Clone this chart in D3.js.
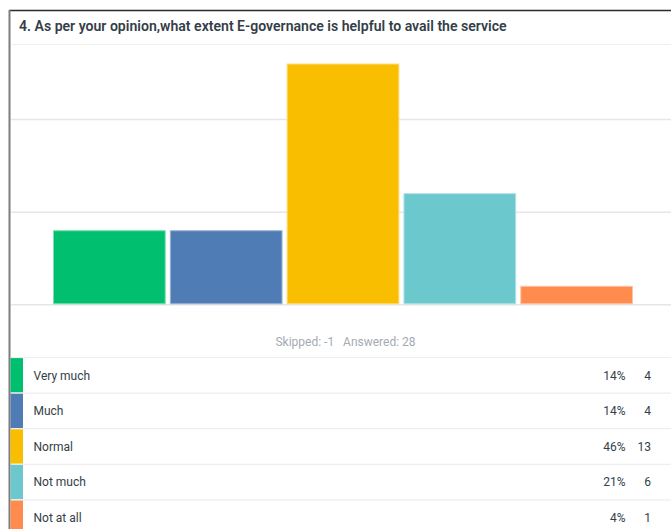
<!DOCTYPE html>
<html>
<head>
<meta charset="utf-8">
<script src="https://cdn.jsdelivr.net/npm/d3@7"></script>
<style>
  html, body { margin: 0; padding: 0; background: #ffffff; }
  svg { display: block; }
  text { font-family: Roboto, "Open Sans", sans-serif; }
</style>
</head>
<body>
<svg id="chart" width="671" height="529"></svg>
<script>
// ---- data ----
const title = "4. As per your opinion,what extent E-governance is helpful to avail the service";
const categories = ["Very much", "Much", "Normal", "Not much", "Not at all"];
const counts = [4, 4, 13, 6, 1];
const percents = [14, 14, 46, 21, 4];
const colors = ["#00bf6f", "#507cb6", "#f9be00", "#6bc8cd", "#ff8b4f"];
const strokeColors = ["#7ddfb2", "#9db6d8", "#fcdc7a", "#b0e2e5", "#ffc3a4"];
const yTicks = [0, 5, 10];
const skipped = -1;
const answered = 28;

// ---- layout ----
const W = 671, H = 529;
const svg = d3.select("#chart");
const plot = { left: 53, right: 633, top: 45, bottom: 304.3 };

// frame borders
svg.append("line").attr("x1", 9).attr("x2", W).attr("y1", 10.5).attr("y2", 10.5)
  .attr("stroke", "#2b2b2b").attr("stroke-width", 1.3);
svg.append("rect").attr("x", 8.5).attr("y", 10).attr("width", 2).attr("height", H - 10)
  .attr("fill", "#7d7d7d");

// title
const t = svg.append("text").attr("x", 19).attr("y", 31)
  .attr("fill", "#333e48").attr("font-weight", 600).attr("font-size", 13)
  .text(title);
const tw = t.node().getComputedTextLength();
t.attr("font-size", 13 * 488 / tw);

// separator under title
svg.append("line").attr("x1", 11).attr("x2", W).attr("y1", 44.5).attr("y2", 44.5)
  .attr("stroke", "#efefef").attr("stroke-width", 1.2);

// scales
const x = d3.scaleBand().domain(categories).range([plot.left, plot.right]).paddingInner(0.035).paddingOuter(0);
const y = d3.scaleLinear().domain([0, 14]).range([plot.bottom, plot.top]);

// gridlines via axis
const yAxis = d3.axisLeft(y).tickValues(yTicks).tickSize(-(W - 11)).tickFormat("");
const g = svg.append("g").attr("transform", `translate(${W},0)`)
  .call(d3.axisRight(y).tickValues(yTicks).tickSize(-(W - 11)).tickFormat(""));
g.select(".domain").remove();
g.selectAll(".tick line").attr("stroke", "#e6e6e6").attr("stroke-width", 1.5);

// bars
svg.append("g").selectAll("rect").data(categories).join("rect")
  .attr("x", d => x(d) + 0.5)
  .attr("y", (d, i) => y(counts[i]) + 0.5)
  .attr("width", x.bandwidth() - 1)
  .attr("height", (d, i) => y(0) - y(counts[i]) - 1)
  .attr("fill", (d, i) => colors[i])
  .attr("stroke", (d, i) => strokeColors[i])
  .attr("stroke-width", 1);

// skipped / answered
svg.append("text").attr("x", 345.5).attr("y", 345.5).attr("text-anchor", "middle")
  .attr("fill", "#a3abb3").attr("font-size", 12).style("white-space", "pre")
  .text(`Skipped: ${skipped}   Answered: ${answered}`);

// legend table
const rowTop = 357.5, rowH = 35.6;
const rows = svg.append("g").selectAll("g").data(categories).join("g")
  .attr("transform", (d, i) => `translate(0,${rowTop + i * rowH})`);
rows.append("line").attr("x1", 11).attr("x2", W).attr("y1", 0).attr("y2", 0)
  .attr("stroke", "#eeeeee").attr("stroke-width", 1.2);
rows.append("rect").attr("x", 10.5).attr("y", 0.6).attr("width", 12.5).attr("height", rowH - 1.2)
  .attr("fill", (d, i) => colors[i]);
rows.append("text").attr("x", 33.5).attr("y", rowH / 2 + 4.3)
  .attr("fill", "#333e48").attr("font-size", 12).text(d => d);
rows.append("text").attr("x", 625.5).attr("y", rowH / 2 + 4.3).attr("text-anchor", "end")
  .attr("fill", "#333e48").attr("font-size", 12).text((d, i) => percents[i] + "%");
rows.append("text").attr("x", 651).attr("y", rowH / 2 + 4.3).attr("text-anchor", "end")
  .attr("fill", "#333e48").attr("font-size", 12).text((d, i) => counts[i]);
</script>
</body>
</html>
